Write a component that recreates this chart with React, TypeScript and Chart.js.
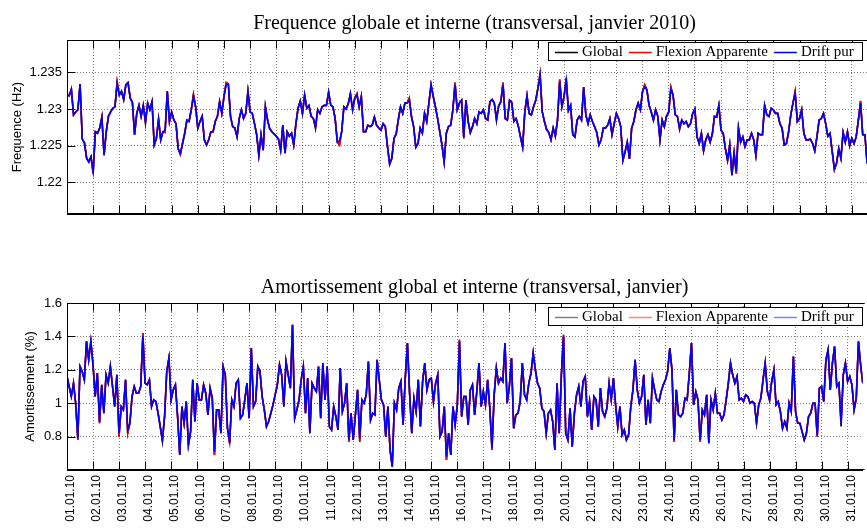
import React, { useEffect, useRef } from "react";
import { Chart, registerables } from "chart.js";

Chart.register(...registerables);

// ---------------- data ----------------
const dayLabels = [
  "01.01.10", "02.01.10", "03.01.10", "04.01.10", "05.01.10", "06.01.10", "07.01.10", "08.01.10",
  "09.01.10", "10.01.10", "11.01.10", "12.01.10", "13.01.10", "14.01.10", "15.01.10", "16.01.10",
  "17.01.10", "18.01.10", "19.01.10", "20.01.10", "21.01.10", "22.01.10", "23.01.10", "24.01.10",
  "25.01.10", "26.01.10", "27.01.10", "28.01.10", "29.01.10", "30.01.10", "31.01.10",
];
const samplesPerDay = 12; // one value every 2 hours
const xMaxDays = 30.58;

const seriesNames = ["Global", "Flexion Apparente", "Drift pur"];
const seriesColors = ["#000000", "#ff0000", "#0000ff"];
const dampLegendColors = ["#808080", "#ff8080", "#8080ff"];

const freqTicks = [1.22, 1.225, 1.23, 1.235];
const freqTickLabels = ["1.22", "1.225", "1.23", "1.235"];
const freqRange = [1.2157, 1.2394];

const dampTicks = [0.8, 1, 1.2, 1.4, 1.6];
const dampTickLabels = ["0.8", "1", "1.2", "1.4", "1.6"];
const dampRange = [0.6, 1.6];

// Frequency, Drift pur (Hz), 12 values per day
const freqDrift = [
  1.2319, 1.2318, 1.2327, 1.2292, 1.2296, 1.2299, 1.2334, 1.2259, 1.2254, 1.2233, 1.2228, 1.2235,
  1.2215, 1.2269, 1.2267, 1.2274, 1.2289, 1.2237, 1.2269, 1.2290, 1.2296, 1.2301, 1.2303, 1.2334,
  1.2319, 1.2324, 1.2313, 1.2333, 1.2336, 1.2315, 1.2309, 1.2265, 1.2294, 1.2305, 1.2290, 1.2305,
  1.2283, 1.2308, 1.2299, 1.2310, 1.2251, 1.2260, 1.2286, 1.2258, 1.2269, 1.2271, 1.2324, 1.2283,
  1.2296, 1.2285, 1.2280, 1.2246, 1.2240, 1.2253, 1.2267, 1.2285, 1.2283, 1.2299, 1.2317, 1.2303,
  1.2274, 1.2283, 1.2290, 1.2258, 1.2251, 1.2258, 1.2269, 1.2269, 1.2283, 1.2290, 1.2310, 1.2294,
  1.2317, 1.2333, 1.2334, 1.2290, 1.2276, 1.2274, 1.2262, 1.2287, 1.2299, 1.2287, 1.2294, 1.2324,
  1.2296, 1.2294, 1.2280, 1.2265, 1.2237, 1.2265, 1.2244, 1.2303, 1.2285, 1.2273, 1.2269, 1.2266,
  1.2263, 1.2259, 1.2244, 1.2278, 1.2240, 1.2269, 1.2263, 1.2267, 1.2251, 1.2280, 1.2301, 1.2311,
  1.2294, 1.2319, 1.2301, 1.2305, 1.2290, 1.2287, 1.2276, 1.2299, 1.2294, 1.2303, 1.2305, 1.2305,
  1.2323, 1.2305, 1.2303, 1.2287, 1.2255, 1.2257, 1.2269, 1.2303, 1.2300, 1.2307, 1.2321, 1.2299,
  1.2315, 1.2319, 1.2303, 1.2317, 1.2269, 1.2269, 1.2278, 1.2276, 1.2278, 1.2289, 1.2278, 1.2274,
  1.2271, 1.2280, 1.2276, 1.2249, 1.2225, 1.2233, 1.2260, 1.2266, 1.2286, 1.2303, 1.2294, 1.2308,
  1.2308, 1.2312, 1.2290, 1.2276, 1.2248, 1.2253, 1.2274, 1.2267, 1.2294, 1.2283, 1.2308, 1.2333,
  1.2317, 1.2303, 1.2287, 1.2269, 1.2251, 1.2228, 1.2267, 1.2276, 1.2278, 1.2299, 1.2333, 1.2299,
  1.2308, 1.2312, 1.2262, 1.2312, 1.2283, 1.2268, 1.2276, 1.2287, 1.2280, 1.2296, 1.2294, 1.2299,
  1.2287, 1.2285, 1.2310, 1.2313, 1.2308, 1.2287, 1.2304, 1.2310, 1.2333, 1.2287, 1.2285, 1.2312,
  1.2309, 1.2283, 1.2287, 1.2277, 1.2262, 1.2248, 1.2296, 1.2318, 1.2294, 1.2292, 1.2303, 1.2312,
  1.2328, 1.2345, 1.2296, 1.2283, 1.2272, 1.2268, 1.2258, 1.2274, 1.2263, 1.2285, 1.2337, 1.2303,
  1.2317, 1.2339, 1.2298, 1.2305, 1.2265, 1.2262, 1.2285, 1.2290, 1.2285, 1.2330, 1.2292, 1.2280,
  1.2292, 1.2283, 1.2276, 1.2268, 1.2251, 1.2258, 1.2274, 1.2274, 1.2278, 1.2287, 1.2265, 1.2280,
  1.2294, 1.2287, 1.2276, 1.2230, 1.2242, 1.2255, 1.2232, 1.2274, 1.2283, 1.2299, 1.2308, 1.2299,
  1.2324, 1.2330, 1.2326, 1.2305, 1.2296, 1.2285, 1.2299, 1.2290, 1.2258, 1.2285, 1.2276, 1.2290,
  1.2296, 1.2327, 1.2319, 1.2292, 1.2290, 1.2274, 1.2285, 1.2280, 1.2283, 1.2276, 1.2280, 1.2294,
  1.2300, 1.2262, 1.2253, 1.2267, 1.2243, 1.2258, 1.2265, 1.2255, 1.2266, 1.2290, 1.2289, 1.2305,
  1.2271, 1.2267, 1.2246, 1.2230, 1.2251, 1.2210, 1.2240, 1.2215, 1.2274, 1.2255, 1.2262, 1.2249,
  1.2258, 1.2258, 1.2267, 1.2258, 1.2237, 1.2267, 1.2265, 1.2265, 1.2305, 1.2292, 1.2290, 1.2301,
  1.2299, 1.2294, 1.2294, 1.2280, 1.2274, 1.2251, 1.2253, 1.2269, 1.2292, 1.2308, 1.2321, 1.2283,
  1.2287, 1.2299, 1.2267, 1.2258, 1.2258, 1.2259, 1.2253, 1.2243, 1.2262, 1.2285, 1.2287, 1.2294,
  1.2280, 1.2263, 1.2267, 1.2242, 1.2219, 1.2226, 1.2246, 1.2233, 1.2268, 1.2255, 1.2269, 1.2251,
  1.2260, 1.2253, 1.2262, 1.2285, 1.2308, 1.2265, 1.2265, 1.2226,
];
// samples where Flexion Apparente / Global stick out from under Drift pur: [index, value]
const freqFlexionTips = [
  [0, 1.2321], [12, 1.2212], [23, 1.2337], [45, 1.2268], [52, 1.2238], [58, 1.2320], [73, 1.2336],
  [125, 1.2251], [133, 1.2321], [157, 1.2315], [178, 1.2336], [182, 1.2260], [200, 1.2336],
  [217, 1.2348], [226, 1.2340], [229, 1.2342], [265, 1.2333], [277, 1.2330], [307, 1.2212],
  [334, 1.2324], [352, 1.2217], [364, 1.2311],
];
const freqGlobalTips = [[36, 1.2280], [114, 1.2273], [197, 1.2284], [281, 1.2272], [359, 1.2249]];

// Damping, Drift pur (%), 12 values per day
const dampDrift = [
  1.16, 1.10, 1.04, 1.12, 1.00, 0.79, 1.22, 1.19, 1.14, 1.37, 1.26, 1.37,
  1.23, 1.04, 1.18, 0.89, 1.11, 0.94, 1.17, 1.12, 1.22, 1.10, 0.98, 1.17,
  0.82, 0.98, 0.96, 1.14, 0.84, 0.88, 1.04, 1.10, 1.06, 1.06, 1.10, 1.40,
  1.12, 1.11, 1.14, 0.98, 1.02, 1.01, 0.94, 0.86, 0.78, 0.92, 1.19, 1.27,
  1.02, 1.08, 1.11, 0.92, 0.69, 0.98, 0.88, 1.01, 0.75, 0.83, 1.14, 0.89,
  1.12, 1.02, 1.02, 1.11, 1.06, 0.93, 1.09, 1.03, 0.71, 0.96, 0.96, 0.82,
  1.22, 1.17, 0.85, 0.77, 1.02, 0.98, 1.12, 1.14, 0.91, 0.93, 1.02, 1.12,
  0.91, 1.33, 0.98, 1.01, 1.22, 1.19, 1.04, 0.96, 0.86, 0.89, 0.94, 0.99,
  1.05, 1.11, 1.23, 1.17, 0.98, 1.25, 1.17, 1.09, 1.47, 0.91, 0.96, 1.02,
  1.14, 1.22, 0.94, 1.15, 0.82, 1.12, 1.09, 1.07, 1.22, 0.91, 1.24, 1.02,
  1.22, 0.86, 0.84, 0.98, 0.92, 0.84, 1.21, 0.95, 1.00, 1.12, 0.78, 0.94,
  0.78, 0.93, 1.08, 0.79, 1.02, 1.00, 1.05, 1.25, 0.90, 0.94, 0.93, 1.26,
  1.14, 1.02, 0.99, 0.80, 0.98, 0.72, 0.62, 1.00, 0.96, 1.09, 1.13, 0.87,
  1.15, 1.36, 1.06, 0.82, 1.03, 0.95, 1.14, 0.86, 1.13, 1.24, 1.08, 1.14,
  1.15, 1.01, 1.12, 1.17, 0.80, 0.83, 0.98, 0.68, 0.82, 0.69, 0.98, 0.87,
  0.99, 1.37, 0.92, 1.04, 1.04, 0.87, 1.08, 1.11, 0.93, 1.07, 1.24, 0.98,
  1.07, 0.99, 1.14, 0.97, 0.73, 1.05, 1.21, 1.12, 1.15, 1.13, 1.36, 1.00,
  1.10, 1.27, 0.85, 0.93, 0.94, 1.01, 1.24, 1.05, 1.02, 1.12, 1.18, 1.30,
  1.20, 1.12, 1.09, 0.97, 0.95, 0.82, 0.94, 0.96, 0.89, 0.72, 1.12, 0.82,
  1.17, 1.40, 0.82, 0.78, 0.97, 0.74, 0.94, 1.05, 1.10, 0.98, 1.13, 1.16,
  0.92, 1.01, 0.84, 1.04, 1.02, 0.86, 1.09, 0.95, 0.92, 0.97, 1.12, 1.02,
  1.15, 0.99, 0.86, 0.98, 0.81, 0.84, 0.78, 0.81, 0.98, 1.08, 1.26, 1.08,
  1.00, 1.04, 1.17, 0.87, 1.02, 0.88, 1.15, 1.08, 1.02, 1.01, 1.07, 1.11,
  1.14, 1.19, 1.33, 1.20, 0.78, 1.08, 0.93, 0.92, 0.94, 1.03, 1.02, 1.18,
  1.36, 0.99, 1.07, 1.02, 0.78, 0.96, 0.93, 1.05, 0.76, 1.02, 0.96, 1.06,
  0.94, 0.94, 0.90, 0.93, 1.02, 1.12, 1.24, 1.17, 1.12, 1.16, 1.02, 1.03,
  1.01, 1.05, 1.04, 1.00, 1.01, 1.00, 0.88, 0.99, 1.03, 1.14, 1.24, 1.07,
  1.02, 1.13, 1.20, 0.99, 1.01, 0.95, 0.85, 0.89, 0.85, 1.00, 0.95, 1.28,
  0.95, 0.88, 0.88, 0.83, 0.78, 0.82, 0.92, 0.94, 1.00, 1.00, 0.81, 1.09,
  1.10, 1.01, 1.26, 1.32, 1.08, 1.24, 1.34, 1.10, 1.12, 0.88, 1.17, 1.24,
  1.13, 1.16, 1.11, 0.96, 1.03, 1.37, 1.23, 1.12,
];
const dampFlexionTips = [
  [5, 0.78], [15, 0.88], [24, 0.80], [28, 0.82], [35, 1.42], [68, 0.69], [75, 0.76], [130, 0.77],
  [135, 0.77], [175, 0.66], [181, 1.38], [196, 0.72], [229, 1.41], [280, 0.77], [292, 0.77], [346, 0.80],
];
const dampGlobalTips = [[44, 0.77], [357, 0.86]];

// ---------------- helpers ----------------
function withTips(base: number[], tips: number[][]): number[] {
  const out = base.slice();
  tips.forEach(([i, v]) => { out[i] = v; });
  return out;
}
function toPoints(values: number[]) {
  return values.map((v, i) => ({ x: i / samplesPerDay, y: v }));
}

const plotTitlePlugin = {
  id: "plotTitle",
  afterDraw(chart: any, _a: any, opts: any) {
    if (!opts || !opts.text) return;
    const ctx = chart.ctx;
    ctx.save();
    ctx.font = opts.font;
    ctx.fillStyle = "#000";
    ctx.textAlign = "center";
    ctx.textBaseline = "alphabetic";
    ctx.fillText(opts.text, opts.x, opts.y);
    ctx.restore();
  },
};

const framePlugin = {
  id: "frame",
  afterDatasetsDraw(chart: any) {
    const { ctx, chartArea: a, scales } = chart;
    const xs = scales.x;
    const ys = scales.y;
    const L = Math.round(a.left) + 0.5;
    const T = Math.round(a.top) + 0.5;
    const B = Math.round(a.bottom) - 0.5;
    ctx.save();
    ctx.strokeStyle = "#000";
    ctx.lineWidth = 1;
    ctx.beginPath();
    ctx.moveTo(a.right + 2, T);
    ctx.lineTo(L, T);
    ctx.lineTo(L, B);
    ctx.lineTo(a.right + 2, B);
    ctx.stroke();
    ctx.beginPath();
    xs.ticks.forEach((t: any) => {
      const px = Math.round(xs.getPixelForValue(t.value)) + 0.5;
      ctx.moveTo(px, B);
      ctx.lineTo(px, B - 8);
      ctx.moveTo(px, T);
      ctx.lineTo(px, T + 8);
    });
    ys.ticks.forEach((t: any) => {
      const py = Math.round(ys.getPixelForValue(t.value)) + 0.5;
      ctx.moveTo(L, py);
      ctx.lineTo(L + 8, py);
    });
    ctx.stroke();
    ctx.restore();
  },
};

const boxLegendPlugin = {
  id: "boxLegend",
  afterDraw(chart: any, _a: any, opts: any) {
    if (!opts || !opts.names) return;
    const ctx = chart.ctx;
    const { left, top, right, bottom } = opts.box;
    ctx.save();
    ctx.fillStyle = "#fff";
    ctx.fillRect(left, top, right - left, bottom - top);
    ctx.strokeStyle = "#000";
    ctx.lineWidth = 1;
    ctx.strokeRect(left + 0.5, top + 0.5, right - left - 1, bottom - top - 1);
    ctx.font = opts.font;
    ctx.textBaseline = "middle";
    const cy = (top + bottom) / 2;
    let x = left + opts.padLeft;
    opts.names.forEach((name: string, i: number) => {
      ctx.strokeStyle = opts.colors[i];
      ctx.lineWidth = 1.5;
      ctx.beginPath();
      ctx.moveTo(x, Math.round(cy) + 0.5);
      ctx.lineTo(x + opts.lineLen, Math.round(cy) + 0.5);
      ctx.stroke();
      x += opts.lineLen + opts.textGap;
      ctx.fillStyle = "#000";
      ctx.fillText(name, x, cy + 1);
      x += ctx.measureText(name).width + opts.entryGap;
    });
    ctx.restore();
  },
};

function buildConfig(p: any) {
  const flex = withTips(p.drift, p.flexTips);
  const glob = withTips(flex, p.globalTips);
  const seriesValues = [glob, flex, p.drift];
  return {
    type: "line",
    data: {
      datasets: seriesNames.map((name, i) => ({
        label: name,
        data: toPoints(seriesValues[i]),
        borderColor: seriesColors[i],
        backgroundColor: seriesColors[i],
        borderWidth: 1.6,
        pointRadius: 0,
        tension: 0,
        order: 3 - i,
      })),
    },
    options: {
      animation: false,
      responsive: false,
      maintainAspectRatio: false,
      devicePixelRatio: 1,
      events: [],
      layout: { padding: { top: p.padTop, left: 0, right: 0, bottom: 0 } },
      plugins: {
        legend: { display: false },
        tooltip: { enabled: false },
        title: { display: false },
        plotTitle: { text: p.title, x: 474.5, y: p.titleY, font: "20px 'Liberation Serif', 'Times New Roman', serif" },
        boxLegend: {
          names: seriesNames,
          colors: p.legendColors,
          box: p.legendBox,
          font: "15px 'Liberation Serif', 'Times New Roman', serif",
          padLeft: 7,
          lineLen: 23,
          textGap: 4,
          entryGap: 6,
        },
      },
      scales: {
        x: {
          type: "linear",
          min: 0,
          max: xMaxDays,
          afterBuildTicks: (s: any) => { s.ticks = dayLabels.map((_, i) => ({ value: i })); },
          afterFit: (s: any) => { s.height = p.xAxisHeight; },
          grid: { color: "rgba(0,0,0,0.5)", lineWidth: 1, drawTicks: false },
          border: { display: true, color: "#000", width: 1, dash: [1, 2] },
          ticks: {
            display: p.showXLabels,
            autoSkip: false,
            minRotation: 90,
            maxRotation: 90,
            padding: 5,
            labelOffset: 4,
            color: "#000",
            font: { family: "'Liberation Sans', Arial, sans-serif", size: 12 },
            callback: (v: any) => dayLabels[Math.round(v)] ?? "",
          },
        },
        y: {
          type: "linear",
          min: p.yRange[0],
          max: p.yRange[1],
          afterBuildTicks: (s: any) => { s.ticks = p.yTicks.map((v: number) => ({ value: v })); },
          afterFit: (s: any) => { s.width = 67; },
          grid: { color: "rgba(0,0,0,0.5)", lineWidth: 1, drawTicks: false },
          border: { display: true, color: "#000", width: 1, dash: [1, 2] },
          ticks: {
            padding: 5,
            color: "#000",
            font: { family: "'Liberation Sans', Arial, sans-serif", size: 13 },
            callback: (_v: any, idx: number) => p.yTickLabels[idx],
          },
          title: {
            display: true,
            text: p.yTitle,
            color: "#000",
            font: { family: "'Liberation Sans', Arial, sans-serif", size: 13 },
            padding: { top: p.yTitlePad, bottom: 0 },
          },
        },
      },
    },
    plugins: [framePlugin, plotTitlePlugin, boxLegendPlugin],
  } as any;
}

export default function App() {
  const topRef = useRef<HTMLCanvasElement>(null);
  const botRef = useRef<HTMLCanvasElement>(null);

  useEffect(() => {
    const top = new Chart(
      topRef.current as HTMLCanvasElement,
      buildConfig({
        drift: freqDrift,
        flexTips: freqFlexionTips,
        globalTips: freqGlobalTips,
        yRange: freqRange,
        yTicks: freqTicks,
        yTickLabels: freqTickLabels,
        yTitle: "Frequence (Hz)",
        yTitlePad: 10,
        title: "Frequence globale et interne (transversal, janvier 2010)",
        titleY: 28.5,
        padTop: 40,
        xAxisHeight: 46,
        showXLabels: false,
        legendColors: seriesColors,
        legendBox: { left: 548, top: 42, right: 863, bottom: 61 },
      })
    );
    const bottom = new Chart(
      botRef.current as HTMLCanvasElement,
      buildConfig({
        drift: dampDrift,
        flexTips: dampFlexionTips,
        globalTips: dampGlobalTips,
        yRange: dampRange,
        yTicks: dampTicks,
        yTickLabels: dampTickLabels,
        yTitle: "Amortissement (%)",
        yTitlePad: 23,
        title: "Amortissement global et interne (transversal, janvier)",
        titleY: 32.5,
        padTop: 43,
        xAxisHeight: 60,
        showXLabels: true,
        legendColors: dampLegendColors,
        legendBox: { left: 548, top: 47, right: 863, bottom: 66 },
      })
    );
    return () => {
      top.destroy();
      bottom.destroy();
    };
  }, []);

  return (
    <div style={{ position: "fixed", left: 0, top: 0, width: 867, height: 530, background: "#fff" }}>
      <canvas ref={topRef} width={867} height={260} style={{ position: "absolute", left: 0, top: 0 }} />
      <canvas ref={botRef} width={867} height={270} style={{ position: "absolute", left: 0, top: 260 }} />
    </div>
  );
}
